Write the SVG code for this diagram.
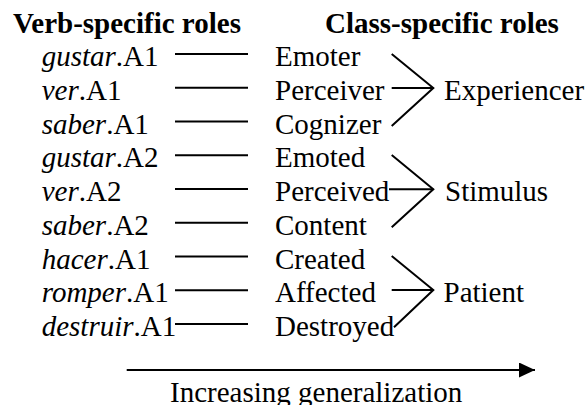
<svg xmlns="http://www.w3.org/2000/svg" width="587" height="405" viewBox="0 0 587 405">
<style>
text{font-family:"Liberation Serif","Times New Roman",serif;font-size:29px;fill:#000}
.h{font-weight:bold}
.i{font-style:italic}
#connectors line,#connectors polyline{stroke:#000;stroke-width:2;fill:none}
</style>
<defs>
<marker id="ah" markerWidth="16" markerHeight="15" refX="16" refY="7.5" orient="auto" markerUnits="userSpaceOnUse"><path d="M0,0 L16,7.5 L0,15 Z" fill="#000"/></marker>
</defs>
<rect width="587" height="405" fill="#fff"/>
<g id="headers">
<text class="h" x="13" y="32.5">Verb-specific roles</text>
<text class="h" x="325" y="32.5">Class-specific roles</text>
</g>
<g id="verb-roles">
<g id="v-gustar-A1"><text x="41.7" y="66"><tspan class="i">gustar</tspan>.A1</text></g>
<g id="v-ver-A1"><text x="41.7" y="99.75"><tspan class="i">ver</tspan>.A1</text></g>
<g id="v-saber-A1"><text x="41.7" y="133.5"><tspan class="i">saber</tspan>.A1</text></g>
<g id="v-gustar-A2"><text x="41.7" y="167.25"><tspan class="i">gustar</tspan>.A2</text></g>
<g id="v-ver-A2"><text x="41.7" y="201"><tspan class="i">ver</tspan>.A2</text></g>
<g id="v-saber-A2"><text x="41.7" y="234.75"><tspan class="i">saber</tspan>.A2</text></g>
<g id="v-hacer-A1"><text x="41.7" y="268.5"><tspan class="i">hacer</tspan>.A1</text></g>
<g id="v-romper-A1"><text x="41.7" y="302.25"><tspan class="i">romper</tspan>.A1</text></g>
<g id="v-destruir-A1"><text x="41.7" y="336"><tspan class="i">destruir</tspan>.A1</text></g>
</g>
<g id="class-roles">
<g id="c-emoter"><text x="275" y="66">Emoter</text></g>
<g id="c-perceiver"><text x="275" y="99.75">Perceiver</text></g>
<g id="c-cognizer"><text x="275" y="133.5">Cognizer</text></g>
<g id="c-emoted"><text x="275" y="167.25">Emoted</text></g>
<g id="c-perceived"><text x="275" y="201">Perceived</text></g>
<g id="c-content"><text x="275" y="234.75">Content</text></g>
<g id="c-created"><text x="275" y="268.5">Created</text></g>
<g id="c-affected"><text x="275" y="302.25">Affected</text></g>
<g id="c-destroyed"><text x="275" y="336">Destroyed</text></g>
</g>
<g id="general-roles">
<g id="g-experiencer"><text x="444" y="99.75">Experiencer</text></g>
<g id="g-stimulus"><text x="445" y="201">Stimulus</text></g>
<g id="g-patient"><text x="443.5" y="302.25">Patient</text></g>
</g>
<g id="generalization-label"><text x="170" y="402">Increasing generalization</text></g>
<g id="connectors">
<line x1="175" y1="54" x2="248" y2="54"/>
<line x1="175" y1="87.75" x2="248" y2="87.75"/>
<line x1="175" y1="121.5" x2="248" y2="121.5"/>
<line x1="175" y1="155.25" x2="248" y2="155.25"/>
<line x1="175" y1="189" x2="248" y2="189"/>
<line x1="175" y1="222.75" x2="248" y2="222.75"/>
<line x1="175" y1="256.5" x2="248" y2="256.5"/>
<line x1="175" y1="290.25" x2="248" y2="290.25"/>
<line x1="175" y1="324" x2="248" y2="324"/>
<polyline points="391.7,54 433.3,88 391.7,126"/>
<line x1="391.7" y1="88" x2="433.3" y2="88"/>
<polyline points="391.7,155 433.3,189.3 391.7,227.3"/>
<line x1="389" y1="189.3" x2="433.3" y2="189.3"/>
<polyline points="391.7,256 433.3,290 394,327.3"/>
<line x1="391.7" y1="290" x2="433.3" y2="290"/>
<line id="generalization-arrow" x1="126.7" y1="370" x2="535" y2="370" marker-end="url(#ah)"/>
</g>
</svg>
